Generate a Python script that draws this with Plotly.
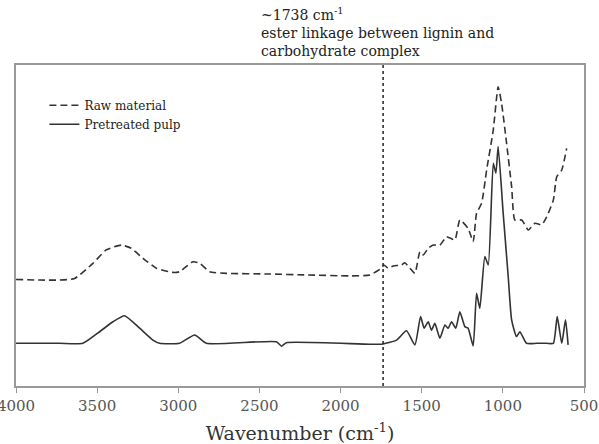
import plotly.graph_objects as go

# Raw material (dashed)
raw_wn = [4000, 3850, 3732, 3639, 3526, 3444, 3351, 3290, 3218, 3135, 3033, 2992, 2910, 2868,
          2807, 2704, 2457, 2200, 1948, 1820, 1748, 1733, 1707, 1676, 1624, 1604, 1573, 1542,
          1511, 1491, 1460, 1429, 1388, 1347, 1296, 1265, 1214, 1183, 1162, 1131, 1100, 1059,
          1029, 1008, 977, 946, 926, 884, 843, 802, 761, 730, 689, 668, 637, 607]
raw_abs = [0.332, 0.330, 0.330, 0.335, 0.382, 0.424, 0.439, 0.429, 0.398, 0.367, 0.354, 0.356,
           0.387, 0.382, 0.356, 0.351, 0.349, 0.346, 0.343, 0.346, 0.367, 0.377, 0.367, 0.374,
           0.377, 0.384, 0.367, 0.351, 0.418, 0.408, 0.429, 0.439, 0.439, 0.465, 0.455, 0.517,
           0.491, 0.450, 0.538, 0.569, 0.673, 0.798, 0.932, 0.881, 0.756, 0.621, 0.517, 0.517,
           0.486, 0.507, 0.502, 0.527, 0.579, 0.652, 0.673, 0.740]

# Pretreated pulp (solid)
pulp_wn = [4000, 3732, 3588, 3485, 3403, 3331, 3238, 3156, 3115, 2992, 2899, 2827, 2395,
           2364, 2334, 1820, 1738, 1655, 1594, 1542, 1507, 1485, 1460, 1440, 1419, 1388, 1357,
           1337, 1316, 1290, 1265, 1234, 1214, 1183, 1162, 1142, 1111, 1090, 1059, 1043, 1029,
           998, 967, 946, 916, 895, 854, 792, 730, 689, 665, 637, 614, 598]
pulp_abs = [0.133, 0.133, 0.133, 0.169, 0.200, 0.219, 0.180, 0.143, 0.133, 0.133, 0.159, 0.133,
            0.138, 0.124, 0.135, 0.130, 0.131, 0.143, 0.172, 0.128, 0.216, 0.180, 0.200, 0.174,
            0.195, 0.149, 0.190, 0.180, 0.200, 0.180, 0.231, 0.185, 0.180, 0.125, 0.289, 0.242,
            0.403, 0.377, 0.694, 0.663, 0.746, 0.538, 0.341, 0.206, 0.154, 0.169, 0.133, 0.133,
            0.133, 0.133, 0.216, 0.133, 0.206, 0.128]

tick_vals = [4000, 3500, 3000, 2500, 2000, 1500, 1000, 500]
marker_wn = 1738
annotation_text = "~1738 cm<sup>-1</sup><br>ester linkage between lignin and<br>carbohydrate complex"

serif = "DejaVu Serif"

fig = go.Figure()
fig.add_trace(go.Scatter(x=raw_wn, y=raw_abs, mode="lines", name="Raw material",
                         line=dict(color="#333333", width=1.6, dash="7px,4px",
                                   shape="spline", smoothing=0.5)))
fig.add_trace(go.Scatter(x=pulp_wn, y=pulp_abs, mode="lines", name="Pretreated pulp",
                         line=dict(color="#333333", width=1.6, shape="spline", smoothing=0.5)))

fig.add_shape(type="line", xref="x", yref="paper", x0=marker_wn, x1=marker_wn, y0=0, y1=1,
              line=dict(color="#222222", width=1.5, dash="dot"))

fig.add_annotation(xref="paper", yref="paper", x=(259 - 16.5) / 567.5, y=1.0, yshift=4,
                   xanchor="left", yanchor="bottom", align="left", showarrow=False,
                   text=annotation_text, font=dict(family=serif, size=14, color="#222222"))

fig.update_layout(
    width=599, height=444,
    margin=dict(l=16, r=15, t=65, b=58),
    paper_bgcolor="white", plot_bgcolor="white",
    font=dict(family=serif),
    showlegend=True,
    legend=dict(x=0.05, y=0.92, xanchor="left", yanchor="top", bgcolor="rgba(0,0,0,0)",
                font=dict(family=serif, size=12, color="#222222"), tracegroupgap=0,
                itemwidth=30),
    xaxis=dict(range=[4000, 500], tickvals=tick_vals, ticks="outside", ticklen=5,
               tickcolor="#999999", showline=True, linecolor="#999999", linewidth=1.5,
               mirror=True, showgrid=False, zeroline=False, automargin=False,
               ticklabeloverflow="allow",
               tickfont=dict(family=serif, size=15, color="#555555"),
               title=dict(text="Wavenumber (cm<sup>-1</sup>)", standoff=14,
                          font=dict(family=serif, size=19, color="#333333"))),
    yaxis=dict(range=[0, 1], showticklabels=False, ticks="", showline=True,
               linecolor="#999999", linewidth=1.5, mirror=True, showgrid=False,
               zeroline=False, automargin=False),
)

fig.write_html("out.html")
